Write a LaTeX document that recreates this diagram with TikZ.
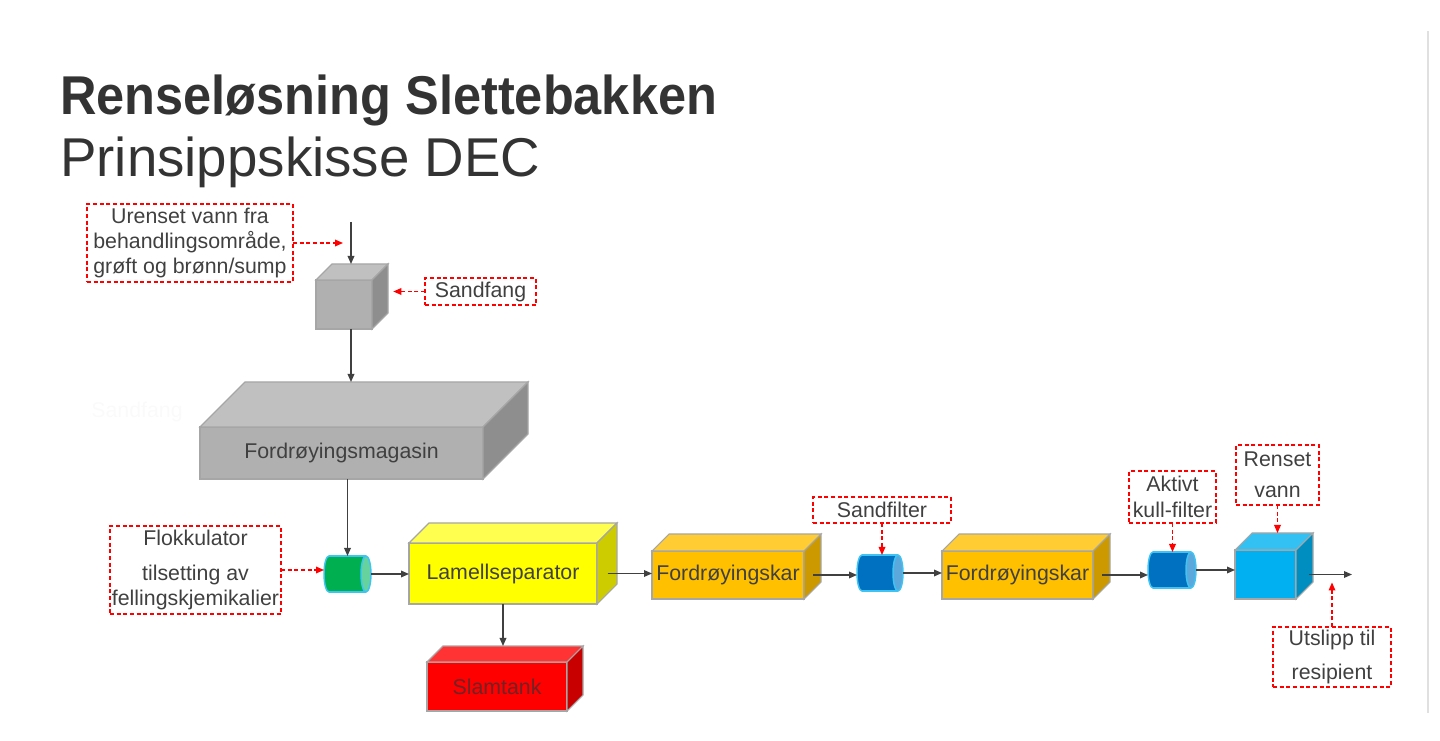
\documentclass[tikz,border=0pt]{standalone}
\usepackage{fontspec}
\setmainfont{Liberation Sans}
\usepackage{tikz}
\usetikzlibrary{arrows.meta, positioning, calc}
\definecolor{textGrey}{HTML}{404040}
\definecolor{titleGrey}{HTML}{333333}
\definecolor{noteRed}{HTML}{FF0000}
\definecolor{boxEdge}{HTML}{A6A6A6}
\definecolor{tubeEdge}{HTML}{3EC3F2}
\definecolor{greyFront}{HTML}{B0B0B0}
\definecolor{greyTop}{HTML}{C0C0C0}
\definecolor{greySide}{HTML}{8E8E8E}
\definecolor{lamellFront}{HTML}{FFFF00}
\definecolor{lamellTop}{HTML}{FFFF50}
\definecolor{lamellSide}{HTML}{CCCC00}
\definecolor{slamFront}{HTML}{FF0000}
\definecolor{slamTop}{HTML}{FF3333}
\definecolor{slamSide}{HTML}{C80000}
\definecolor{slamText}{HTML}{6E2326}
\definecolor{karFront}{HTML}{FFC000}
\definecolor{karTop}{HTML}{FFCD33}
\definecolor{karSide}{HTML}{CC9A00}
\definecolor{rensetFront}{HTML}{00B0F0}
\definecolor{rensetTop}{HTML}{33C0F3}
\definecolor{rensetSide}{HTML}{008DC0}
\definecolor{flokkBody}{HTML}{00B050}
\definecolor{flokkEnd}{HTML}{66D29E}
\definecolor{filterBody}{HTML}{0070C0}
\definecolor{filterEnd}{HTML}{5BA8DC}
\definecolor{dividerGrey}{HTML}{E0E0E0}

% top and side faces behind a front node: node, depth, top colour, side colour
\newcommand{\boxfaces}[4]{%
  \filldraw[draw=boxEdge, line width=0.8pt, fill=#3] (#1.north west) -- ++(#2,-#2) -- ($(#1.north east)+(#2,-#2)$) -- (#1.north east) -- cycle;
  \filldraw[draw=boxEdge, line width=0.8pt, fill=#4] (#1.north east) -- ++(#2,-#2) -- ($(#1.south east)+(#2,-#2)$) -- (#1.south east) -- cycle;
  \coordinate (#1-top) at ($(#1.north)+(0.5*#2,-#2)$);
  \coordinate (#1-side) at ($(#1.east)+(#2,-0.5*#2)$);}

% lying cylinder over a tube node: node, body colour, end colour
\newcommand{\tubefaces}[3]{%
  \filldraw[draw=tubeEdge, line width=1.1pt, fill=#2] ($(#1.west)+(5,0)$) ellipse [x radius=5, y radius=18];
  \fill[#2] ($(#1.north west)+(5,0)$) rectangle ($(#1.south east)+(-5,0)$);
  \draw[tubeEdge, line width=1.1pt] ($(#1.north west)+(5,0)$) -- ($(#1.north east)+(-5,0)$)
    ($(#1.south west)+(5,0)$) -- ($(#1.south east)+(-5,0)$);
  \filldraw[draw=tubeEdge, line width=1.1pt, fill=#3] ($(#1.east)+(-5,0)$) ellipse [x radius=5, y radius=18];}

\begin{document}
\begin{tikzpicture}[
    x=0.75pt, y=-0.75pt,
    boxsize/.style 2 args={minimum width=#1*0.75pt, minimum height=#2*0.75pt},
    lbl/.style={font=\fontsize{16}{19}\selectfont, text=textGrey},
    front/.style={rectangle, lbl, draw=boxEdge, line width=0.8pt, inner sep=0pt, outer sep=0pt},
    tube/.style={rectangle, inner sep=0pt, outer sep=0pt},
    note/.style={rectangle, lbl, draw=noteRed, line width=0.9pt, dash pattern=on 3pt off 2pt, inner sep=0pt, outer sep=0pt, align=center},
    arrow/.style={-{Triangle[length=6pt, width=5pt]}, line width=0.9pt, draw=textGrey},
    notearrow/.style={arrow, draw=noteRed, dash pattern=on 3pt off 2pt},
]
    \useasboundingbox (0,0) rectangle (1440,741);
    \draw[dividerGrey, line width=0.8pt] (1428,31) -- (1428,713);

    % Title
    \node[anchor=base west, inner sep=0pt, text=titleGrey, font=\fontsize{41}{49}\selectfont\bfseries] (title) at (60,115) {\scalebox{0.924}[1]{Renseløsning Slettebakken}};
    \node[anchor=base west, inner sep=0pt, text=titleGrey, font=\fontsize{41}{49}\selectfont] (subtitle) at (60,177) {Prinsippskisse DEC};
    \node[lbl, text=white!98!black] (ghost) at (137,412) {Sandfang};

    % Boxes
    \node[front, fill=greyFront, boxsize={56}{49}] (sandfang) at (344,304.5) {};
    \boxfaces{sandfang}{16}{greyTop}{greySide}
    \node[front, fill=greyFront, boxsize={283}{52}] (magasin) at (341.5,453) {Fordrøyingsmagasin};
    \boxfaces{magasin}{45}{greyTop}{greySide}
    \node[front, fill=lamellFront, boxsize={188}{61}] (lamell) at (503,573.5) {Lamellseparator};
    \boxfaces{lamell}{20}{lamellTop}{lamellSide}
    \node[front, fill=slamFront, text=slamText, boxsize={140}{49}] (slamtank) at (497,686.5) {Slamtank};
    \boxfaces{slamtank}{16}{slamTop}{slamSide}
    \node[front, fill=karFront, boxsize={152}{48}] (kar1) at (728,575) {Fordrøyingskar};
    \boxfaces{kar1}{17}{karTop}{karSide}
    \node[front, fill=karFront, boxsize={151}{48}] (kar2) at (1017.5,575) {Fordrøyingskar};
    \boxfaces{kar2}{17}{karTop}{karSide}
    \node[front, fill=rensetFront, boxsize={61}{49}] (renset) at (1265.5,574.5) {};
    \boxfaces{renset}{17}{rensetTop}{rensetSide}

    % Cylinders
    \node[tube, boxsize={47}{36}] (flokk) at (347.5,574) {};
    \tubefaces{flokk}{flokkBody}{flokkEnd}
    \node[tube, boxsize={46}{36}] (sandfilter) at (880,573) {};
    \tubefaces{sandfilter}{filterBody}{filterEnd}
    \node[tube, boxsize={48}{36}] (kull) at (1172,570) {};
    \tubefaces{kull}{filterBody}{filterEnd}

    % Notes
    \node[note, boxsize={206}{78}] (inflow) at (190,243) {Urenset vann fra\\behandlingsområde,\\grøft og brønn/sump};
    \node[note, boxsize={111}{27}] (sandnote) at (480.5,291.5) {Sandfang};
    \node[note, boxsize={171}{88}] (flokknote) at (195.5,570) {Flokkulator\\[7pt]tilsetting av\\fellingskjemikalier};
    \node[note, boxsize={138}{26}] (filternote) at (882,510) {Sandfilter};
    \node[note, boxsize={87}{52}] (kullnote) at (1172.5,497) {Aktivt\\kull-filter};
    \node[note, boxsize={83}{60}] (rensetnote) at (1277.5,475) {Renset\\[4pt]vann};
    \node[note, boxsize={118}{60}] (utslippnote) at (1332,657) {Utslipp til\\[6pt]resipient};

    \coordinate (inlet) at (351,222);
    \coordinate (outlet) at (1352,572);

    % Arrows
    \draw[arrow] (inlet) -- (inlet |- sandfang-top);
    \draw[arrow] (sandfang.south -| inlet) -- (inlet |- magasin-top);
    \draw[arrow] (flokk.north |- magasin.south) -- (flokk.north);
    \draw[arrow] (flokk.east) -- (flokk.east -| lamell.west);
    \draw[arrow, shorten <=8pt] (lamell.east) -- (lamell.east -| kar1.west);
    \draw[arrow] (lamell.south) -- (lamell.south |- slamtank-top);
    \draw[arrow, shorten <=7pt] (kar1.east) -- (kar1.east -| sandfilter.west);
    \draw[arrow] (sandfilter.east) -- (sandfilter.east -| kar2.west);
    \draw[arrow, shorten <=7pt] (kar2.east) -- (kar2.east -| kull.west);
    \draw[arrow] (kull.east) -- (kull.east -| renset.west);
    \draw[arrow, shorten <=10pt] (renset.east) -- (renset.east -| outlet);

    \draw[notearrow, shorten >=6pt] (inflow.east) -- (inflow.east -| inlet);
    \draw[notearrow, shorten >=4pt] (sandnote.west) -- (sandnote.west -| sandfang-side);
    \draw[notearrow] (flokknote.east) -- (flokknote.east -| flokk.west);
    \draw[notearrow] (filternote.south) -- (filternote.south |- sandfilter.north);
    \draw[notearrow] (kullnote.south) -- (kullnote.south |- kull.north);
    \draw[notearrow] (rensetnote.south) -- (rensetnote.south |- renset-top);
    \draw[notearrow, shorten >=6pt] (utslippnote.north) -- (utslippnote.north |- renset.east);
\end{tikzpicture}
\end{document}
